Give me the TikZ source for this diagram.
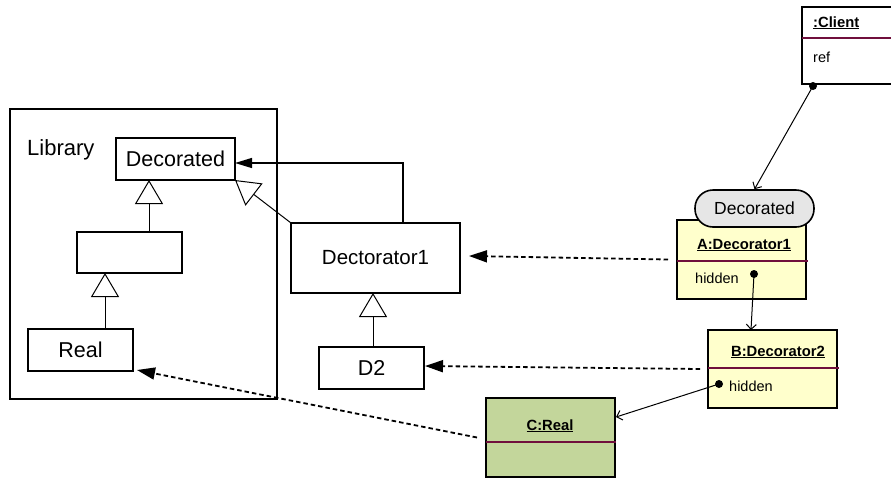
\documentclass[tikz,border=0pt]{standalone}
\usepackage{fontspec}
\setmainfont{Liberation Sans}
\usetikzlibrary{arrows.meta,calc}
\definecolor{objyellow}{HTML}{FFFFCC}
\definecolor{objgreen}{HTML}{C3D69B}
\definecolor{pillgray}{HTML}{E6E6E6}
\definecolor{divred}{HTML}{700F3C}
\begin{document}
\begin{tikzpicture}[x=1pt,y=-1pt,
  cls/.style={draw, line width=1.3pt, inner sep=0pt, outer sep=0pt, font=\fontsize{21.5}{24}\selectfont},
  obj/.style={draw, line width=1.6pt, inner sep=0pt, outer sep=0pt, minimum width=129pt},
  lbl/.style={inner sep=0pt, font=\fontsize{14.5}{17}\selectfont},
  blbl/.style={inner sep=0pt, font=\fontsize{14.8}{17}\selectfont\bfseries},
  divider/.style={draw=divred, line width=1.2pt},
  gen/.style={line width=1pt, -{Triangle[open, width=28pt, length=24pt, line width=1pt]}},
  assoc/.style={line width=1.3pt, -{Triangle[width=10pt, length=17pt]}},
  dep/.style={line width=1.8pt, dash pattern=on 4.5pt off 3pt, -{Triangle[width=12pt, length=18pt]}},
  link/.style={line width=1pt, -{Straight Barb[length=5pt, width=10pt, line width=1pt]}},
  dotstyle/.style={circle, fill=black, inner sep=0pt, minimum size=8pt}
]
\clip (0,0) rectangle (891,480);
\fill[white] (0,0) rectangle (891,480);

% Library package
\node[draw, line width=1.4pt, minimum width=267pt, minimum height=290pt, inner sep=0pt] (lib) at (143.5,254) {};
\node[anchor=base west, inner sep=0pt, font=\fontsize{22}{24}\selectfont] (libname) at (27,155) {Library};
\node[cls, minimum width=119pt, minimum height=42pt] (decorated) at (175.5,159) {Decorated};
\node[cls, minimum width=105pt, minimum height=41pt] (mid) at (129.5,252.5) {};
\node[cls, minimum width=105pt, minimum height=42pt] (real) at (80.5,350) {Real};

% Decorator classes
\node[cls, minimum width=169pt, minimum height=70pt, font=\fontsize{20.5}{24}\selectfont] (dec1) at (375.5,258) {Dectorator1};
\node[cls, minimum width=105pt, minimum height=42pt] (d2) at (371.5,368) {D2};

% Class connectors
\draw[gen] ([xshift=19.5pt]mid.north) -- ([xshift=19.5pt]mid.north |- decorated.south);
\draw[gen] ([xshift=24.5pt]real.north) -- ([xshift=24.5pt]real.north |- mid.south);
\draw[gen] ([xshift=1.5pt]d2.north) -- ([xshift=1.5pt]d2.north |- dec1.south);
\draw[gen] (dec1.north west) -- (decorated.south east);
\draw[assoc] ([xshift=27.5pt]dec1.north) |- ([yshift=-4pt]decorated.east);

% Client object
\node[obj, minimum width=96pt, minimum height=77pt, fill=white] (client) at (850,45.5) {};
\draw[divider] (client.west |- 0,38) -- (891,38);
\node[blbl, anchor=base west] (clientname) at (813,27) {\underline{:Client}};
\node[lbl, anchor=base west] (clientref) at (813,62) {ref};

% A:Decorator1
\node[obj, fill=objyellow, minimum height=79pt] (A) at (741.5,259.5) {};
\draw[divider] (A.west |- 0,261) -- (808,261);
\node[blbl, anchor=base] (Aname) at (744,249) {\underline{A:Decorator1}};
\node[lbl, anchor=base west] (Ahidden) at (695,283) {hidden};
\node[draw, line width=1.6pt, fill=pillgray, rounded corners=18pt, minimum width=119pt, minimum height=37pt, inner sep=0pt, font=\fontsize{17.5}{20}\selectfont] (pill) at (754.5,208.5) {Decorated};

% B:Decorator2
\node[obj, fill=objyellow, minimum height=78pt] (B) at (772.5,369) {};
\draw[divider] (B.west |- 0,368) -- (839,368);
\node[blbl, anchor=base] (Bname) at (778,356) {\underline{B:Decorator2}};
\node[lbl, anchor=base west] (Bhidden) at (729,391) {hidden};

% C:Real
\node[obj, fill=objgreen, minimum height=79pt] (C) at (550.5,437.5) {};
\draw[divider] (C.west |- 0,442) -- (616,442);
\node[blbl, anchor=base] (Cname) at (550,430) {\underline{C:Real}};

% object links
\coordinate (cdot) at (813,86);
\coordinate (adot) at (754,274);
\coordinate (bdot) at (719,384);
\coordinate (btop) at (751,330);
\coordinate (cright) at (616,417);
\draw[link] (cdot) -- (pill.north);
\draw[link] (adot) -- (btop);
\draw[link] (bdot) -- (cright);
\node[dotstyle] (cdotn) at (cdot) {};
\node[dotstyle] (adotn) at (adot) {};
\node[dotstyle] (bdotn) at (bdot) {};

% dependencies
\draw[dep] ([xshift=-9pt]A.west) -- ([xshift=9pt,yshift=2pt]dec1.east);
\draw[dep] ([xshift=-8pt]B.west) -- ([xshift=1pt,yshift=2pt]d2.east);
\draw[dep] ([xshift=-9pt]C.west) -- ([xshift=4pt,yshift=1pt]real.south east);
\end{tikzpicture}
\end{document}
